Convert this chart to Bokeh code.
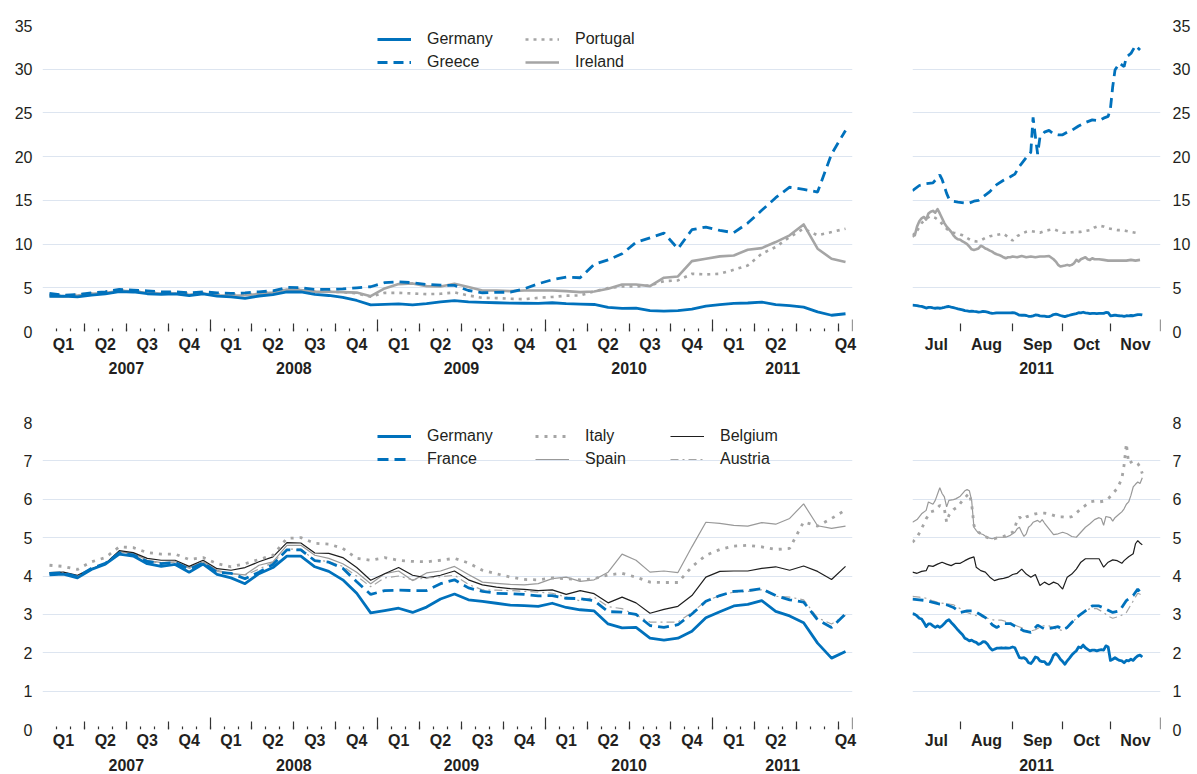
import numpy as np
from bokeh.plotting import figure
from bokeh.models import Range1d, LinearAxis, FixedTicker, Grid, Legend, LegendItem
from bokeh.layouts import column, row
from bokeh.embed import file_html
from bokeh.resources import INLINE

FONT = "Liberation Sans"
TEXT = "#231f20"
TICK = "#333333"
GRID = "#dde5f0"
BLUE = "#0071bc"
GREY = "#a5a5a5"
GREY2 = "#999999"
BLACK = "#1e1e1e"

# ---------------- monthly data: Jan 2007 .. Oct 2011 (58 months) ----------------
years = [2007, 2008, 2009, 2010, 2011]
quarter_names = ["Q1", "Q2", "Q3", "Q4"]
n_axis_months = 58          # axis runs Jan 2007 .. end Oct 2011
unlabelled_quarters = [18]  # Q3 2011 carries no label in the original

germany_m = [4.03, 4.05, 3.95, 4.17, 4.31, 4.57, 4.52, 4.32, 4.25, 4.30, 4.10, 4.31,
             4.04, 3.95, 3.80, 4.06, 4.22, 4.52, 4.52, 4.24, 4.12, 3.90, 3.55, 3.04,
             3.10, 3.16, 3.05, 3.19, 3.40, 3.53, 3.38, 3.34, 3.29, 3.24, 3.23, 3.21,
             3.29, 3.18, 3.12, 3.09, 2.75, 2.65, 2.66, 2.38, 2.33, 2.38, 2.56, 2.91,
             3.07, 3.22, 3.26, 3.36, 3.08, 2.96, 2.78, 2.25, 1.86, 2.03]
greece_m = [4.35, 4.15, 4.23, 4.42, 4.54, 4.81, 4.73, 4.65, 4.54, 4.54, 4.42, 4.54,
            4.42, 4.35, 4.42, 4.54, 4.65, 5.04, 5.00, 4.81, 4.81, 4.88, 5.00, 5.12,
            5.58, 5.69, 5.58, 5.38, 5.30, 5.27, 4.69, 4.43, 4.47, 4.50, 4.89, 5.46,
            5.92, 6.22, 6.15, 7.67, 8.20, 8.89, 10.2, 10.7, 11.26, 9.47, 11.64, 11.95,
            11.56, 11.30, 12.4, 13.86, 15.3, 16.5, 16.26, 15.95, 20.3, 23.0]
portugal_m = [4.20, 4.10, 4.20, 4.35, 4.50, 4.70, 4.65, 4.45, 4.40, 4.40, 4.30, 4.40,
              4.25, 4.20, 4.20, 4.40, 4.50, 4.85, 4.85, 4.60, 4.55, 4.50, 4.35, 3.98,
              4.42, 4.42, 4.35, 4.27, 4.31, 4.47, 4.12, 3.85, 3.82, 3.74, 3.70, 3.85,
              3.95, 4.10, 4.12, 4.60, 4.96, 5.15, 5.15, 5.27, 5.76, 5.84, 6.60, 6.53,
              6.60, 7.06, 7.56, 8.89, 9.66, 10.8, 11.76, 11.0, 11.37, 11.76]
ireland_m = [4.08, 4.00, 4.10, 4.30, 4.40, 4.65, 4.60, 4.40, 4.35, 4.35, 4.20, 4.35,
             4.15, 4.10, 4.15, 4.30, 4.45, 4.80, 4.75, 4.55, 4.55, 4.50, 4.45, 4.04,
             4.92, 5.42, 5.50, 5.19, 5.15, 5.46, 5.08, 4.69, 4.69, 4.62, 4.69, 4.69,
             4.69, 4.62, 4.50, 4.58, 4.89, 5.38, 5.38, 5.19, 6.15, 6.30, 8.05, 8.32,
             8.59, 8.70, 9.35, 9.54, 10.23, 11.0, 12.25, 9.47, 8.32, 7.94]
france_m = [4.07, 4.08, 3.98, 4.20, 4.33, 4.60, 4.55, 4.38, 4.32, 4.35, 4.18, 4.34,
            4.10, 4.07, 3.93, 4.10, 4.30, 4.68, 4.68, 4.40, 4.36, 4.20, 3.85, 3.52,
            3.62, 3.63, 3.62, 3.62, 3.80, 3.90, 3.69, 3.60, 3.55, 3.54, 3.52, 3.48,
            3.49, 3.42, 3.41, 3.36, 3.07, 3.06, 3.00, 2.71, 2.66, 2.73, 3.01, 3.34,
            3.49, 3.60, 3.62, 3.67, 3.49, 3.38, 3.32, 2.86, 2.66, 3.01]
italy_m = [4.28, 4.25, 4.17, 4.37, 4.48, 4.76, 4.74, 4.61, 4.57, 4.57, 4.43, 4.48,
           4.32, 4.24, 4.32, 4.43, 4.54, 4.98, 5.00, 4.85, 4.83, 4.72, 4.46, 4.41,
           4.48, 4.41, 4.38, 4.37, 4.41, 4.46, 4.34, 4.15, 4.06, 3.97, 3.91, 3.90,
           3.95, 3.93, 3.90, 3.93, 4.03, 4.07, 3.97, 3.84, 3.83, 3.83, 4.24, 4.54,
           4.69, 4.78, 4.80, 4.76, 4.69, 4.72, 5.41, 5.30, 5.50, 5.72]
spain_m = [4.08, 4.09, 3.99, 4.19, 4.32, 4.63, 4.59, 4.41, 4.35, 4.37, 4.22, 4.37,
           4.15, 4.06, 4.03, 4.28, 4.37, 4.80, 4.80, 4.54, 4.46, 4.32, 4.10, 3.80,
           4.06, 4.13, 3.88, 4.08, 4.13, 4.25, 4.04, 3.84, 3.81, 3.78, 3.77, 3.80,
           3.93, 3.97, 3.86, 3.90, 4.10, 4.57, 4.41, 4.10, 4.13, 4.09, 4.76, 5.40,
           5.37, 5.32, 5.30, 5.39, 5.35, 5.50, 5.88, 5.31, 5.24, 5.30]
belgium_m = [4.09, 4.10, 4.02, 4.19, 4.32, 4.66, 4.61, 4.46, 4.41, 4.41, 4.25, 4.41,
             4.19, 4.15, 4.22, 4.37, 4.50, 4.87, 4.86, 4.60, 4.59, 4.48, 4.22, 3.89,
             4.06, 4.22, 4.02, 3.95, 4.02, 4.13, 3.90, 3.77, 3.71, 3.67, 3.65, 3.62,
             3.64, 3.52, 3.62, 3.54, 3.30, 3.45, 3.30, 3.03, 3.13, 3.21, 3.49, 3.97,
             4.12, 4.13, 4.13, 4.20, 4.24, 4.15, 4.26, 4.12, 3.91, 4.25]
austria_m = [4.07, 4.08, 3.98, 4.20, 4.32, 4.60, 4.56, 4.38, 4.34, 4.36, 4.20, 4.35,
             4.12, 4.06, 4.02, 4.18, 4.35, 4.70, 4.70, 4.41, 4.38, 4.25, 4.00, 3.72,
             3.95, 4.00, 3.90, 3.95, 3.98, 4.02, 3.78, 3.64, 3.63, 3.62, 3.60, 3.58,
             3.55, 3.45, 3.35, 3.45, 3.20, 3.15, 2.98, 2.80, 2.80, 2.80, 3.05, 3.35,
             3.49, 3.58, 3.60, 3.64, 3.47, 3.45, 3.38, 2.91, 2.75, 2.98]

# ---------------- daily data: business days from 1 Jul 2011 ----------------
month_names_d = ["Jul", "Aug", "Sep", "Oct", "Nov"]
month_starts_d = ["2011-07-01", "2011-08-01", "2011-09-01", "2011-10-01", "2011-11-01", "2011-12-01"]

germany_d = [3.02, 3.00, 2.96, 2.90, 2.88, 2.79, 2.68, 2.75, 2.75, 2.70,
             2.66, 2.70, 2.66, 2.70, 2.76, 2.83, 2.86, 2.79, 2.73, 2.66,
             2.59, 2.53, 2.47, 2.38, 2.35, 2.31, 2.33, 2.29, 2.27, 2.22,
             2.24, 2.29, 2.28, 2.22, 2.13, 2.07, 2.09, 2.12, 2.12, 2.13,
             2.12, 2.13, 2.12, 2.13, 2.15, 2.13, 2.00, 1.87, 1.86, 1.87,
             1.83, 1.74, 1.72, 1.79, 1.89, 1.87, 1.79, 1.77, 1.77, 1.70,
             1.70, 1.80, 1.94, 1.98, 1.92, 1.83, 1.77, 1.70, 1.79, 1.86,
             1.94, 2.00, 2.05, 2.15, 2.13, 2.20, 2.13, 2.09, 2.05, 2.07,
             2.07, 2.05, 2.07, 2.08, 2.07, 2.18, 2.15, 1.80, 1.83, 1.87,
             1.83, 1.80, 1.79, 1.74, 1.80, 1.79, 1.83, 1.80, 1.87, 1.92,
             1.94, 1.89]
germany_d_days = list(range(len(germany_d)))

greece_d = [(0, 16.1), (3, 16.7), (6, 16.9), (9, 17.0), (11, 17.6), (12, 17.9), (13, 17.4),
            (14, 16.6), (15, 15.8), (16, 15.2), (18, 14.9), (20, 14.8), (23, 14.7), (25, 14.7),
            (27, 14.9), (29, 15.0), (31, 15.4), (34, 16.0), (37, 16.8), (40, 17.3), (43, 17.7),
            (45, 18.0), (47, 18.9), (50, 19.9), (52, 20.5), (53, 24.5), (54, 22.3), (55, 20.3),
            (56, 22.2), (58, 22.8), (60, 23.0), (62, 22.6), (64, 22.5), (66, 22.5), (68, 22.8),
            (70, 23.0), (73, 23.5), (76, 23.9), (79, 24.2), (82, 24.1), (84, 24.4), (86, 24.6),
            (87, 25.5), (88, 28.0), (89, 29.9), (91, 30.7), (93, 30.3), (94, 31.4), (96, 31.8),
            (98, 32.7), (100, 32.2)]
portugal_d = [(0, 10.8), (2, 11.5), (4, 12.4), (6, 12.9), (8, 13.2), (10, 13.0), (12, 12.6),
              (14, 12.0), (16, 11.5), (18, 11.3), (20, 11.2), (22, 11.0), (24, 10.7), (26, 10.4),
              (28, 10.3), (30, 10.4), (32, 10.7), (34, 10.9), (36, 11.0), (38, 11.1), (40, 11.2),
              (42, 10.8), (44, 10.4), (46, 10.9), (48, 11.2), (50, 11.4), (52, 11.5), (54, 11.4),
              (56, 11.3), (58, 11.5), (60, 11.6), (62, 11.7), (64, 11.5), (66, 11.3), (68, 11.3),
              (70, 11.35), (72, 11.4), (74, 11.4), (76, 11.5), (78, 11.6), (80, 11.9), (82, 12.1),
              (84, 12.0), (86, 11.8), (88, 11.7), (90, 11.6), (92, 11.6), (94, 11.5), (96, 11.4),
              (98, 11.3), (100, 11.2)]
ireland_d = [(0, 11.2), (1, 11.0), (2, 12.0), (3, 12.6), (4, 12.95), (5, 13.1), (6, 12.8),
             (7, 13.5), (8, 13.7), (9, 13.8), (10, 13.6), (11, 14.0), (12, 13.5), (13, 12.95),
             (14, 12.4), (15, 12.0), (16, 11.7), (17, 11.4), (18, 11.0), (19, 10.7), (20, 10.55),
             (21, 10.5), (22, 10.3), (23, 10.17), (24, 10.0), (25, 9.7), (26, 9.4), (27, 9.33),
             (28, 9.4), (29, 9.5), (30, 9.8), (31, 9.7), (32, 9.5), (33, 9.4), (34, 9.25),
             (35, 9.14), (36, 8.95), (37, 8.83), (38, 8.76), (39, 8.64), (40, 8.49), (41, 8.38),
             (42, 8.49), (43, 8.49), (44, 8.57), (46, 8.49), (48, 8.64), (50, 8.49), (52, 8.57),
             (54, 8.49), (56, 8.57), (58, 8.57), (60, 8.64), (62, 8.26), (63, 8.0), (64, 7.62),
             (65, 7.43), (66, 7.5), (67, 7.54), (68, 7.62), (69, 7.54), (70, 7.62), (71, 7.8),
             (72, 8.19), (73, 8.0), (74, 8.26), (75, 8.38), (76, 8.49), (77, 8.26), (78, 8.19),
             (79, 8.38), (80, 8.26), (82, 8.26), (84, 8.19), (86, 8.11), (88, 8.11), (90, 8.11),
             (92, 8.11), (94, 8.11), (96, 8.19), (98, 8.11), (100, 8.19)]
france_d = [(0, 3.40), (3, 3.38), (6, 3.36), (9, 3.31), (12, 3.27), (15, 3.25), (18, 3.18),
            (21, 3.05), (24, 3.09), (27, 3.09), (30, 2.99), (33, 2.88), (35, 2.73), (37, 2.66),
            (40, 2.76), (43, 2.76), (46, 2.66), (49, 2.57), (52, 2.53), (55, 2.72), (58, 2.62),
            (61, 2.64), (64, 2.68), (66, 2.60), (68, 2.66), (70, 2.79), (73, 2.96), (76, 3.09),
            (79, 3.22), (82, 3.22), (85, 3.14), (88, 3.05), (91, 3.09), (94, 3.36), (97, 3.49),
            (99, 3.66), (101, 3.51)]
austria_d = [(0, 3.47), (3, 3.45), (6, 3.42), (9, 3.35), (12, 3.30), (15, 3.28), (18, 3.25),
             (21, 3.15), (24, 3.05), (27, 2.98), (30, 2.95), (33, 2.90), (36, 2.85), (39, 2.85),
             (42, 2.80), (45, 2.72), (48, 2.65), (51, 2.55), (54, 2.60), (57, 2.70), (60, 2.70),
             (63, 2.62), (66, 2.58), (69, 2.72), (72, 2.90), (75, 3.05), (78, 3.15), (81, 3.15),
             (84, 3.05), (86, 2.95), (88, 2.90), (91, 2.95), (94, 3.05), (97, 3.35), (99, 3.55),
             (101, 3.50)]
belgium_d = [(0, 4.10), (2, 4.07), (4, 4.12), (6, 4.14), (7, 4.27), (9, 4.25), (11, 4.31),
             (13, 4.36), (15, 4.31), (17, 4.27), (19, 4.33), (21, 4.33), (23, 4.40), (25, 4.46),
             (27, 4.50), (28, 4.23), (30, 4.14), (32, 4.10), (34, 3.97), (36, 3.88), (38, 3.92),
             (40, 3.94), (42, 3.97), (44, 4.04), (46, 4.07), (48, 4.18), (50, 4.05), (52, 3.97),
             (54, 4.04), (56, 3.75), (58, 3.84), (60, 3.77), (62, 3.84), (64, 3.79), (66, 3.66),
             (68, 3.97), (70, 4.05), (72, 4.18), (74, 4.36), (76, 4.45), (78, 4.45), (80, 4.45),
             (82, 4.45), (84, 4.23), (86, 4.36), (88, 4.42), (90, 4.40), (92, 4.33), (93, 4.40),
             (95, 4.50), (97, 4.58), (98, 4.84), (99, 4.92), (100, 4.86), (101, 4.81)]
spain_d = [(0, 5.40), (2, 5.47), (4, 5.62), (6, 5.71), (7, 5.93), (9, 5.87), (10, 5.97),
           (12, 6.30), (13, 6.15), (14, 6.06), (15, 5.80), (16, 5.97), (18, 5.99), (19, 6.01),
           (21, 6.08), (23, 6.22), (24, 6.25), (25, 6.22), (26, 5.97), (27, 5.27), (28, 5.19),
           (29, 5.12), (31, 5.08), (33, 5.00), (35, 4.97), (37, 5.01), (39, 5.01), (41, 5.01),
           (43, 5.06), (45, 5.14), (46, 5.23), (47, 5.27), (48, 5.14), (49, 5.03), (50, 5.10),
           (51, 5.27), (52, 5.32), (53, 5.40), (55, 5.45), (56, 5.40), (57, 5.47), (58, 5.38),
           (60, 5.23), (62, 5.08), (64, 5.10), (66, 5.14), (68, 5.10), (70, 5.03), (72, 5.01),
           (74, 5.14), (76, 5.27), (78, 5.36), (80, 5.47), (82, 5.52), (83, 5.49), (84, 5.32),
           (85, 5.55), (87, 5.52), (88, 5.43), (89, 5.52), (91, 5.62), (92, 5.67), (93, 5.75),
           (94, 5.87), (95, 5.93), (96, 6.10), (97, 6.32), (98, 6.39), (99, 6.45), (100, 6.41),
           (101, 6.56)]
italy_d = [(0, 4.88), (2, 5.01), (4, 5.23), (6, 5.49), (8, 5.67), (10, 5.71), (12, 5.84),
           (14, 5.75), (15, 5.40), (16, 5.58), (18, 5.73), (20, 5.81), (22, 5.97), (24, 6.10),
           (25, 6.15), (26, 5.88), (27, 5.32), (28, 5.19), (30, 5.10), (32, 5.03), (34, 4.97),
           (36, 4.97), (38, 5.01), (40, 5.03), (42, 5.08), (44, 5.14), (45, 5.27), (46, 5.45),
           (47, 5.54), (48, 5.47), (50, 5.54), (52, 5.58), (54, 5.62), (56, 5.64), (58, 5.64),
           (60, 5.62), (62, 5.58), (64, 5.54), (66, 5.54), (68, 5.52), (70, 5.55), (72, 5.64),
           (74, 5.75), (76, 5.84), (78, 5.93), (80, 5.95), (82, 5.93), (84, 5.95), (86, 6.01),
           (88, 6.15), (90, 6.28), (92, 6.54), (93, 6.89), (94, 7.45), (95, 6.93), (97, 7.00),
           (98, 6.97), (99, 6.93), (100, 6.84), (101, 6.67)]


def unzip(pairs):
    return [a for a, _ in pairs], [b for _, b in pairs]


# ---------------- axis helpers ----------------
def tick_axis(ticks, length):
    return LinearAxis(fixed_location=0, ticker=FixedTicker(ticks=ticks, minor_ticks=[]),
                      axis_line_color=None, major_tick_in=length, major_tick_out=0,
                      major_tick_line_color=TICK, major_tick_line_width=1.2,
                      minor_tick_line_color=None, major_label_text_alpha=0,
                      major_label_text_font_size="1px", major_label_standoff=0)


def label_axis(positions, labels, standoff):
    return LinearAxis(ticker=FixedTicker(ticks=positions, minor_ticks=[]),
                      major_label_overrides={float(p): l for p, l in zip(positions, labels)},
                      axis_line_color=None, major_tick_line_color=None, minor_tick_line_color=None,
                      major_tick_in=0, major_tick_out=0, major_label_standoff=standoff,
                      major_label_text_font=FONT, major_label_text_font_size="16px",
                      major_label_text_font_style="bold", major_label_text_color=TEXT)


def value_axis(ymax, step, standoff):
    return LinearAxis(ticker=FixedTicker(ticks=list(np.arange(0, ymax + 0.001, step)), minor_ticks=[]),
                      axis_line_color=None, major_tick_line_color=None, minor_tick_line_color=None,
                      major_tick_in=0, major_tick_out=0, major_label_standoff=standoff,
                      major_label_text_font=FONT, major_label_text_font_size="16px",
                      major_label_text_color=TEXT)


def base_fig(width, height, xr, ymax, step, borders):
    l, r, t, b = borders
    p = figure(width=width, height=height, x_range=Range1d(*xr), y_range=Range1d(0, ymax),
               output_backend="svg", toolbar_location=None, x_axis_type=None, y_axis_type=None,
               min_border_left=l, min_border_right=r, min_border_top=t, min_border_bottom=b)
    p.outline_line_color = None
    p.background_fill_color = "white"
    p.border_fill_color = "white"
    p.add_layout(Grid(dimension=1, ticker=FixedTicker(ticks=list(np.arange(0, ymax + 0.001, step))),
                      grid_line_color=GRID, grid_line_width=1))
    return p


def monthly_axes(p, q_stand, y_stand):
    n = n_axis_months
    months = list(range(1, n))
    quarters = [m for m in range(3, n, 3) if m % 12 != 0]
    year_ticks = [m for m in range(12, n, 12)] + [n]
    p.add_layout(tick_axis(months, 3), "below")
    p.add_layout(tick_axis(quarters, 8), "below")
    p.add_layout(tick_axis(year_ticks, 12), "below")
    q_pos, q_lab = [], []
    for k, q in enumerate(range(0, n, 3)):
        if k in unlabelled_quarters:
            continue
        q_pos.append((q + min(q + 3, n)) / 2)
        q_lab.append(quarter_names[k % 4])
    p.add_layout(label_axis(q_pos, q_lab, q_stand), "below")
    y_pos = [(12 * i + min(12 * i + 12, n)) / 2 for i in range(len(years))]
    p.add_layout(label_axis(y_pos, [str(y) for y in years], y_stand), "below")


def daily_axes(p, q_stand, y_stand):
    b = [int(np.busday_count(month_starts_d[0], s)) for s in month_starts_d]
    p.add_layout(tick_axis(b[1:-1], 8), "below")
    p.add_layout(tick_axis([b[-1]], 12), "below")
    centers = [(b[i] + b[i + 1]) / 2 for i in range(len(month_names_d))]
    p.add_layout(label_axis(centers, month_names_d, q_stand), "below")
    p.add_layout(label_axis([(b[0] + b[-1]) / 2], ["2011"], y_stand), "below")


def make_legend(items, x, y):
    return Legend(items=[LegendItem(label=l, renderers=[r]) for l, r in items], location=(x, y),
                  orientation="vertical", padding=0, margin=0, spacing=3, glyph_width=34,
                  glyph_height=20, label_height=20, label_standoff=16, label_text_font=FONT,
                  label_text_font_size="16px", label_text_color=TEXT, border_line_color=None,
                  background_fill_alpha=0)


xm = [i + 0.5 for i in range(len(germany_m))]
n_days_axis = int(np.busday_count(month_starts_d[0], month_starts_d[-1]))

# styles
S_DE = dict(line_color=BLUE, line_width=2.8, line_join="round")
S_GR = dict(line_color=BLUE, line_width=2.8, line_dash="10 6")
S_PT = dict(line_color=GREY, line_width=2.6, line_dash="3 5")
S_IE = dict(line_color=GREY, line_width=2.6, line_join="round")
S_FR = dict(line_color=BLUE, line_width=2.8, line_dash="11 6")
S_IT = dict(line_color=GREY, line_width=2.8, line_dash="3 6")
S_ES = dict(line_color=GREY2, line_width=1.2)
S_BE = dict(line_color=BLACK, line_width=1.2)
S_AT = dict(line_color=GREY, line_width=1.2, line_dash="8 4 2 4")

# ---------------- top left ----------------
p1 = base_fig(862, 400, (0, n_axis_months), 35, 5, (42, 10, 25, 69))
p1.add_layout(value_axis(35, 5, 10), "left")
monthly_axes(p1, 4, 6)
r_ie = p1.line(xm, ireland_m, **S_IE)
r_pt = p1.line(xm, portugal_m, **S_PT)
r_gr = p1.line(xm, greece_m, **S_GR)
r_de = p1.line(xm, germany_m, **S_DE)
p1.add_layout(make_legend([("Germany", r_de), ("Greece", r_gr)], 335, 259))
p1.add_layout(make_legend([("Portugal", r_pt), ("Ireland", r_ie)], 483, 259))

# ---------------- top right ----------------
p2 = base_fig(335, 400, (0, n_days_axis), 35, 5, (50, 37, 25, 69))
p2.add_layout(value_axis(35, 5, 12), "right")
daily_axes(p2, 4, 6)
d, v = unzip(ireland_d); p2.line(d, v, **S_IE)
d, v = unzip(portugal_d); p2.line(d, v, **S_PT)
d, v = unzip(greece_d); p2.line(d, v, **S_GR)
p2.line(germany_d_days, germany_d, **S_DE)

# ---------------- bottom left ----------------
p3 = base_fig(862, 374, (0, n_axis_months), 8, 1, (42, 10, 22, 45))
p3.add_layout(value_axis(8, 1, 10), "left")
monthly_axes(p3, 2, 7)
r_es = p3.line(xm, spain_m, **S_ES)
r_be = p3.line(xm, belgium_m, **S_BE)
r_at = p3.line(xm, austria_m, **S_AT)
r_it = p3.line(xm, italy_m, **S_IT)
r_fr = p3.line(xm, france_m, **S_FR)
r_de3 = p3.line(xm, germany_m, **S_DE)
p3.add_layout(make_legend([("Germany", r_de3), ("France", r_fr)], 335, 260))
p3.add_layout(make_legend([("Italy", r_it), ("Spain", r_es)], 493, 260))
p3.add_layout(make_legend([("Belgium", r_be), ("Austria", r_at)], 628, 260))

# ---------------- bottom right ----------------
p4 = base_fig(335, 374, (0, n_days_axis), 8, 1, (50, 37, 22, 45))
p4.add_layout(value_axis(8, 1, 12), "right")
daily_axes(p4, 2, 7)
d, v = unzip(spain_d); p4.line(d, v, **S_ES)
d, v = unzip(belgium_d); p4.line(d, v, **S_BE)
d, v = unzip(austria_d); p4.line(d, v, **S_AT)
d, v = unzip(italy_d); p4.line(d, v, **S_IT)
d, v = unzip(france_d); p4.line(d, v, **S_FR)
p4.line(germany_d_days, germany_d, **S_DE)

layout = column(row(p1, p2), row(p3, p4))
open("out.html", "w").write(file_html(layout, INLINE))
